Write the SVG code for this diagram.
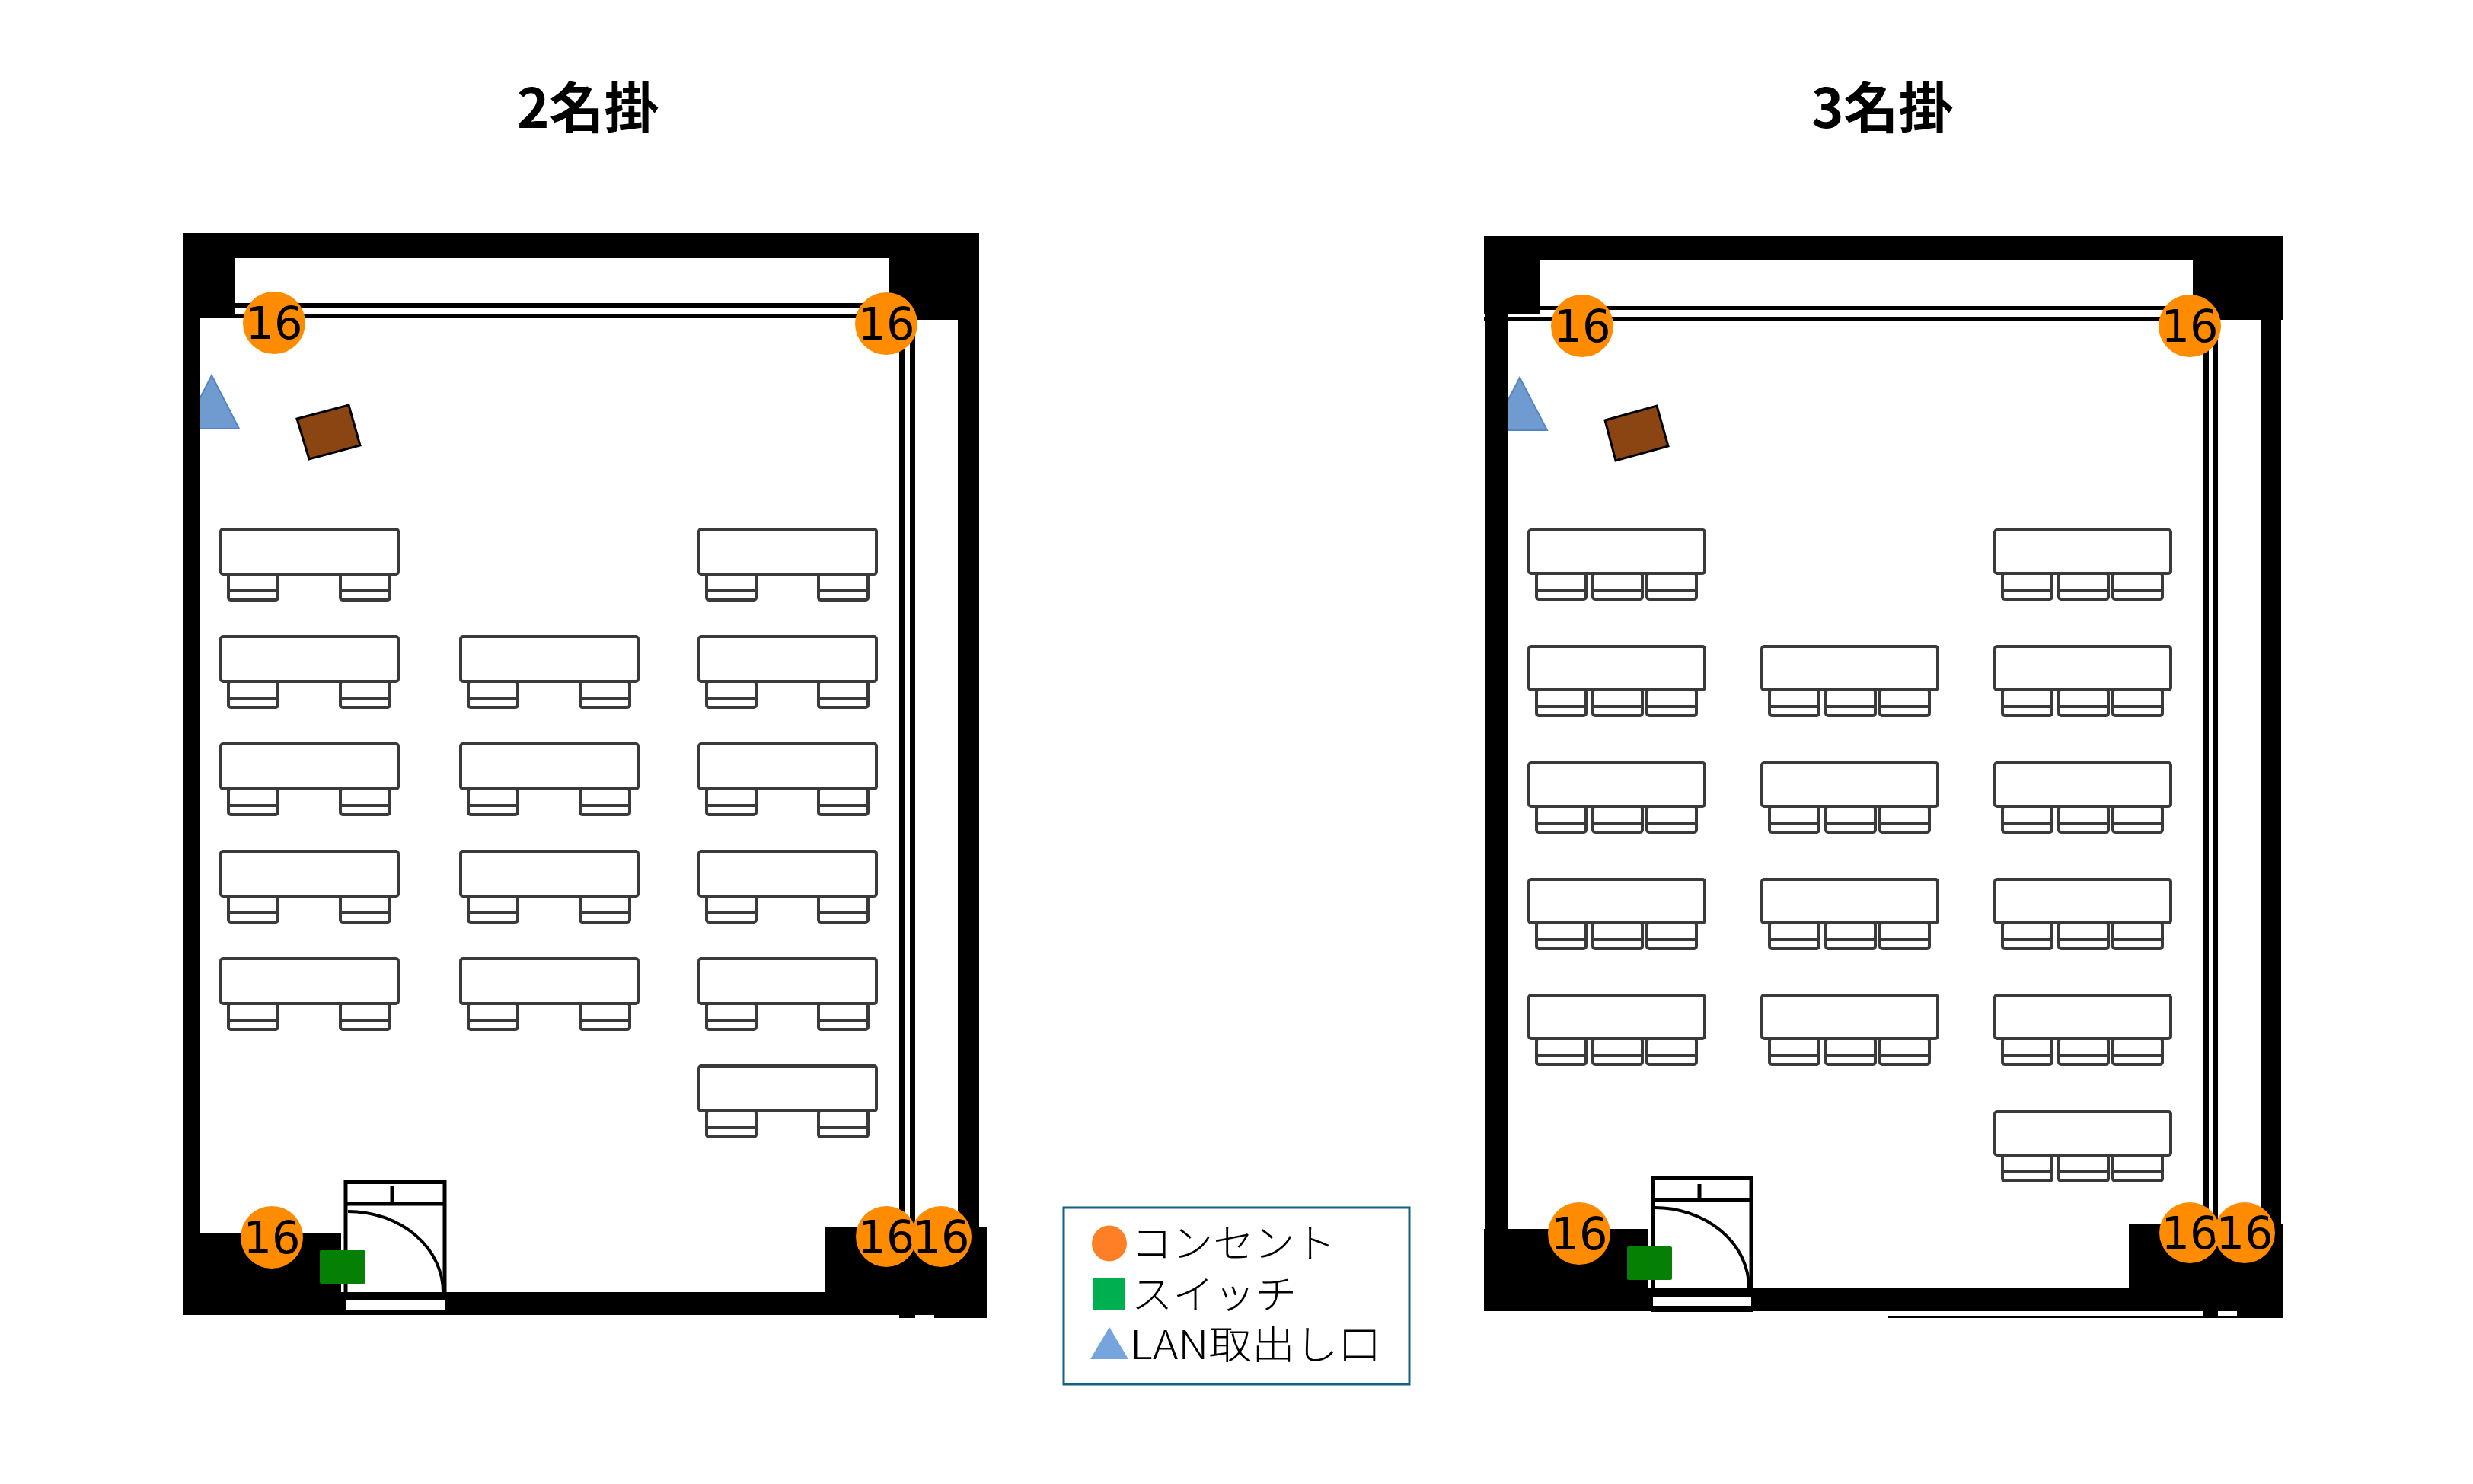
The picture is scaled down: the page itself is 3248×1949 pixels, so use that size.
<svg xmlns="http://www.w3.org/2000/svg" xmlns:xlink="http://www.w3.org/1999/xlink" width="3248" height="1949" viewBox="0 0 3248 1949">
<style>
.title{font-family:"Noto Sans CJK JP","Noto Sans",sans-serif;font-size:72px;font-weight:700;fill:#000}
.num{font-family:"DejaVu Sans",sans-serif;font-size:59px;fill:#000;text-anchor:middle}
.leg{font-family:"Noto Sans CJK JP","Noto Sans",sans-serif;font-size:52px;font-weight:300;fill:#000}
.o{fill:#ff8c00}
.w{fill:#000}
.t rect,.t line{fill:#fff;stroke:#3a3a3a;stroke-width:4}
.tri{fill:#6f9bd1;stroke:#5585c0;stroke-width:2}
.desk{fill:#8b4513;stroke:#000;stroke-width:3}
.sw{fill:#058005}
.fr{fill:none;stroke:#000;stroke-width:5}
.arc{fill:none;stroke:#000;stroke-width:4}
.slot{fill:#fff}
</style>
<defs>
<g id="c" class="t"><rect x="0" y="0" width="65" height="34" rx="3"/><line x1="0" y1="22" x2="65" y2="22"/></g>
<g id="t2" class="t"><use xlink:href="#c" href="#c" x="10" y="59"/><use xlink:href="#c" href="#c" x="157" y="59"/><rect x="0" y="0" width="233" height="59" rx="3"/></g>
<g id="t3" class="t"><use xlink:href="#c" href="#c" x="10" y="57"/><use xlink:href="#c" href="#c" x="84" y="57"/><use xlink:href="#c" href="#c" x="155" y="57"/><rect x="0" y="0" width="231" height="57" rx="3"/></g>
</defs>
<rect width="3248" height="1949" fill="#fff"/>

<text id="title-2" class="title" x="679" y="168">2名掛</text>
<text id="title-3" class="title" x="2379" y="168">3名掛</text>

<g id="room-2">
<polygon id="lan-2" class="tri" points="278,493 314,563 242,563"/>
<g id="walls-2" class="w">
<path d="M240 306H1280Q1286 306 1286 312V339H240Z"/>
<rect x="240" y="306" width="68" height="112"/>
<rect x="240" y="306" width="23" height="1421"/>
<rect x="1167" y="306" width="119" height="114"/>
<rect x="1258" y="306" width="28" height="1310"/>
<rect x="240" y="1619" width="208" height="108"/>
<rect x="448" y="1697" width="740" height="30"/>
<rect x="1083" y="1612" width="213" height="115"/>
<rect x="1181" y="1700" width="21" height="31"/>
<rect x="1227" y="1700" width="69" height="31"/>
<rect x="308" y="398" width="860" height="7"/>
<rect x="308" y="412" width="860" height="6"/>
<rect x="1181" y="418" width="7" height="1200"/>
<rect x="1195" y="418" width="7" height="1200"/>
</g>
<polygon id="desk-2" class="desk" points="390,550 458,532 473,585 406,603"/>
<g id="tables-2">
<use xlink:href="#t2" href="#t2" x="290" y="695"/>
<use xlink:href="#t2" href="#t2" x="290" y="836"/>
<use xlink:href="#t2" href="#t2" x="290" y="977"/>
<use xlink:href="#t2" href="#t2" x="290" y="1118"/>
<use xlink:href="#t2" href="#t2" x="290" y="1259"/>
<use xlink:href="#t2" href="#t2" x="605" y="836"/>
<use xlink:href="#t2" href="#t2" x="605" y="977"/>
<use xlink:href="#t2" href="#t2" x="605" y="1118"/>
<use xlink:href="#t2" href="#t2" x="605" y="1259"/>
<use xlink:href="#t2" href="#t2" x="918" y="695"/>
<use xlink:href="#t2" href="#t2" x="918" y="836"/>
<use xlink:href="#t2" href="#t2" x="918" y="977"/>
<use xlink:href="#t2" href="#t2" x="918" y="1118"/>
<use xlink:href="#t2" href="#t2" x="918" y="1259"/>
<use xlink:href="#t2" href="#t2" x="918" y="1400"/>
</g>
<g id="door-2">
<path class="fr" d="M454 1697V1552.500H584V1697"/>
<line class="fr" x1="454" y1="1581" x2="584" y2="1581"/>
<line class="fr" x1="515" y1="1558" x2="515" y2="1581"/>
<path class="arc" d="M457 1591A125 106 0 0 1 582 1697"/>
<rect class="slot" x="454" y="1707" width="130" height="13"/>
</g>
<rect id="switch-2" class="sw" x="420" y="1642" width="60" height="44" rx="2"/>
<g id="outlet-2a"><circle class="o" cx="360" cy="424" r="41"/><text class="num" x="360" y="445">16</text></g>
<g id="outlet-2b"><circle class="o" cx="1164" cy="425" r="41"/><text class="num" x="1164" y="446">16</text></g>
<g id="outlet-2c"><circle class="o" cx="357" cy="1625" r="41"/><text class="num" x="357" y="1646">16</text></g>
<g id="outlet-2d"><circle class="o" cx="1164" cy="1624" r="40"/><text class="num" x="1164" y="1645">16</text></g>
<g id="outlet-2e"><circle class="o" cx="1236" cy="1624" r="40"/><text class="num" x="1236" y="1645">16</text></g>
</g>

<g id="room-3">
<polygon id="lan-3" class="tri" points="1996,496 2032,565 1960,565"/>
<g id="walls-3" class="w">
<path d="M1949 310H2990Q2996 310 2996 316V342H1949Z"/>
<rect x="1949" y="310" width="74" height="103"/>
<rect x="1950" y="310" width="31" height="1412"/>
<rect x="1949" y="416" width="74" height="6"/>
<rect x="2880" y="310" width="118" height="110"/>
<rect x="2969" y="310" width="27" height="1305"/>
<rect x="1949" y="1614" width="215" height="108"/>
<rect x="2164" y="1691" width="640" height="31"/>
<rect x="2796" y="1608" width="203" height="114"/>
<rect x="2480" y="1728" width="519" height="3"/>
<rect x="2893" y="1700" width="20" height="31"/>
<rect x="2938" y="1700" width="61" height="31"/>
<rect x="2023" y="402" width="860" height="5"/>
<rect x="2023" y="416" width="860" height="6"/>
<rect x="2893" y="420" width="8" height="1195"/>
<rect x="2907" y="420" width="6" height="1195"/>
</g>
<polygon id="desk-3" class="desk" points="2108,552 2176,533 2191,586 2122,605"/>
<g id="tables-3">
<use xlink:href="#t3" href="#t3" x="2008" y="696"/>
<use xlink:href="#t3" href="#t3" x="2008" y="849"/>
<use xlink:href="#t3" href="#t3" x="2008" y="1002"/>
<use xlink:href="#t3" href="#t3" x="2008" y="1155"/>
<use xlink:href="#t3" href="#t3" x="2008" y="1307"/>
<use xlink:href="#t3" href="#t3" x="2314" y="849"/>
<use xlink:href="#t3" href="#t3" x="2314" y="1002"/>
<use xlink:href="#t3" href="#t3" x="2314" y="1155"/>
<use xlink:href="#t3" href="#t3" x="2314" y="1307"/>
<use xlink:href="#t3" href="#t3" x="2620" y="696"/>
<use xlink:href="#t3" href="#t3" x="2620" y="849"/>
<use xlink:href="#t3" href="#t3" x="2620" y="1002"/>
<use xlink:href="#t3" href="#t3" x="2620" y="1155"/>
<use xlink:href="#t3" href="#t3" x="2620" y="1307"/>
<use xlink:href="#t3" href="#t3" x="2620" y="1460"/>
</g>
<g id="door-3">
<path class="fr" d="M2171 1691V1547.500H2300V1691"/>
<line class="fr" x1="2171" y1="1576" x2="2300" y2="1576"/>
<line class="fr" x1="2232" y1="1555" x2="2232" y2="1576"/>
<path class="arc" d="M2173 1586A124 105 0 0 1 2297 1691"/>
<rect class="slot" x="2171" y="1703" width="129" height="12"/>
<rect x="2168" y="1719" width="134" height="4" fill="#000"/>
</g>
<rect id="switch-3" class="sw" x="2137" y="1637" width="59" height="44" rx="2"/>
<g id="outlet-3a"><circle class="o" cx="2078" cy="428" r="41"/><text class="num" x="2078" y="449">16</text></g>
<g id="outlet-3b"><circle class="o" cx="2876" cy="428" r="41"/><text class="num" x="2876" y="449">16</text></g>
<g id="outlet-3c"><circle class="o" cx="2074" cy="1620" r="41"/><text class="num" x="2074" y="1641">16</text></g>
<g id="outlet-3d"><circle class="o" cx="2876" cy="1619" r="40"/><text class="num" x="2876" y="1640">16</text></g>
<g id="outlet-3e"><circle class="o" cx="2948" cy="1619" r="40"/><text class="num" x="2948" y="1640">16</text></g>
</g>

<g id="legend">
<rect x="1397" y="1586" width="454" height="232" fill="#fff" stroke="#156082" stroke-width="3"/>
<ellipse cx="1457" cy="1633" rx="23" ry="23.500" fill="#ff7f27"/>
<rect x="1436" y="1678" width="42" height="42" fill="#00b050"/>
<polygon points="1457,1743 1482,1785 1432,1785" fill="#75a5dc"/>
<text class="leg" x="1486" y="1652" textLength="268" lengthAdjust="spacingAndGlyphs">コンセント</text>
<text class="leg" x="1486" y="1719" textLength="217" lengthAdjust="spacingAndGlyphs">スイッチ</text>
<text class="leg" x="1484" y="1785" textLength="330" lengthAdjust="spacingAndGlyphs">LAN取出し口</text>
</g>
</svg>
